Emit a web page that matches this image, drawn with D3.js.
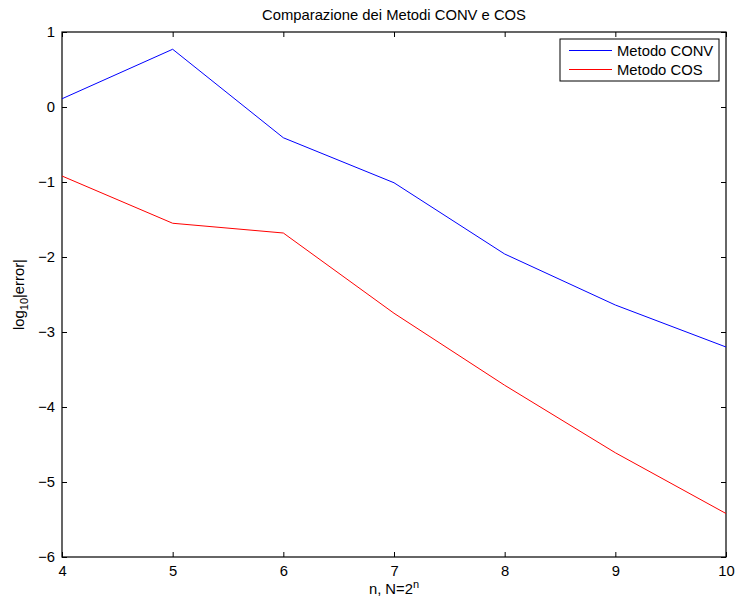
<!DOCTYPE html>
<html><head><meta charset="utf-8">
<script src="https://cdn.jsdelivr.net/npm/d3@7"></script>
<style>body{margin:0;background:#fff;}svg{display:block;font-family:"Liberation Sans",Arial,sans-serif;}</style>
</head><body>
<svg id="c" width="736" height="603"></svg>
<script>
const nValues = [4, 5, 6, 7, 8, 9, 10];
const convValues = [0.11, 0.77, -0.41, -1.01, -1.96, -2.64, -3.20];
const cosValues = [-0.92, -1.55, -1.68, -2.75, -3.71, -4.61, -5.42];
const xTicks = [4, 5, 6, 7, 8, 9, 10];
const yTicks = [1, 0, -1, -2, -3, -4, -5, -6];
const seriesNames = ["Metodo CONV", "Metodo COS"];

const FS = 14.8;
const svg = d3.select("#c");
const L = 62, R = 726, T = 32, B = 557;
const x = d3.scaleLinear().domain([4, 10]).range([L, R]);
const y = d3.scaleLinear().domain([-6, 1]).range([B, T]);

svg.append("rect").attr("x", 0).attr("y", 0).attr("width", 736).attr("height", 603).attr("fill", "#fff");

function styleAxis(g) {
  g.select(".domain").remove();
  g.selectAll("line").attr("stroke", "#000").attr("stroke-width", 1);
  g.selectAll("text").attr("font-size", FS).attr("fill", "#000");
}
// bottom
svg.append("g").attr("transform", `translate(0,${B})`)
  .call(d3.axisBottom(x).tickValues(xTicks).tickSizeInner(-5).tickSizeOuter(0).tickPadding(8).tickFormat(d3.format("d")))
  .call(styleAxis);
// top
svg.append("g").attr("transform", `translate(0,${T})`)
  .call(d3.axisTop(x).tickValues(xTicks).tickSizeInner(-5).tickSizeOuter(0).tickFormat(""))
  .call(styleAxis);
// left
svg.append("g").attr("transform", `translate(${L},0)`)
  .call(d3.axisLeft(y).tickValues(yTicks).tickSizeInner(-5).tickSizeOuter(0).tickPadding(7).tickFormat(d => d < 0 ? "\u2212" + Math.abs(d) : d))
  .call(styleAxis);
// right
svg.append("g").attr("transform", `translate(${R},0)`)
  .call(d3.axisRight(y).tickValues(yTicks).tickSizeInner(-5).tickSizeOuter(0).tickFormat(""))
  .call(styleAxis);

// box
svg.append("rect").attr("x", L).attr("y", T).attr("width", R - L).attr("height", B - T)
  .attr("fill", "none").attr("stroke", "#000").attr("stroke-width", 1.2);

const line = d3.line().x((d, i) => x(nValues[i])).y(d => y(d));
svg.append("path").datum(convValues).attr("d", line).attr("fill", "none").attr("stroke", "#0000ff").attr("stroke-width", 1);
svg.append("path").datum(cosValues).attr("d", line).attr("fill", "none").attr("stroke", "#ff0000").attr("stroke-width", 1);

// title
svg.append("text").attr("x", (L + R) / 2).attr("y", 20).attr("text-anchor", "middle").attr("font-size", FS).text("Comparazione dei Metodi CONV e COS");

// x label
const xl = svg.append("text").attr("x", (L + R) / 2).attr("y", 594).attr("text-anchor", "middle").attr("font-size", FS);
xl.append("tspan").text("n, N=2");
xl.append("tspan").attr("dy", -6).attr("font-size", 11).text("n");

// y label
const yl = svg.append("text").attr("transform", `translate(24,${(T + B) / 2}) rotate(-90)`).attr("text-anchor", "middle").attr("font-size", FS);
yl.append("tspan").text("log");
yl.append("tspan").attr("dy", 4).attr("font-size", 11).text("10");
yl.append("tspan").attr("dy", -4).text("|error|");

// legend
const lg = svg.append("g");
lg.append("rect").attr("x", 560).attr("y", 39).attr("width", 159).attr("height", 42).attr("fill", "#fff").attr("stroke", "#000").attr("stroke-width", 1);
const colors = ["#0000ff", "#ff0000"];
seriesNames.forEach((s, i) => {
  const yy = 50.5 + i * 19;
  lg.append("line").attr("x1", 569).attr("x2", 612).attr("y1", yy).attr("y2", yy).attr("stroke", colors[i]).attr("stroke-width", 1);
  lg.append("text").attr("x", 617).attr("y", yy + 5.5).attr("font-size", FS).text(s);
});
</script>
</body></html>
